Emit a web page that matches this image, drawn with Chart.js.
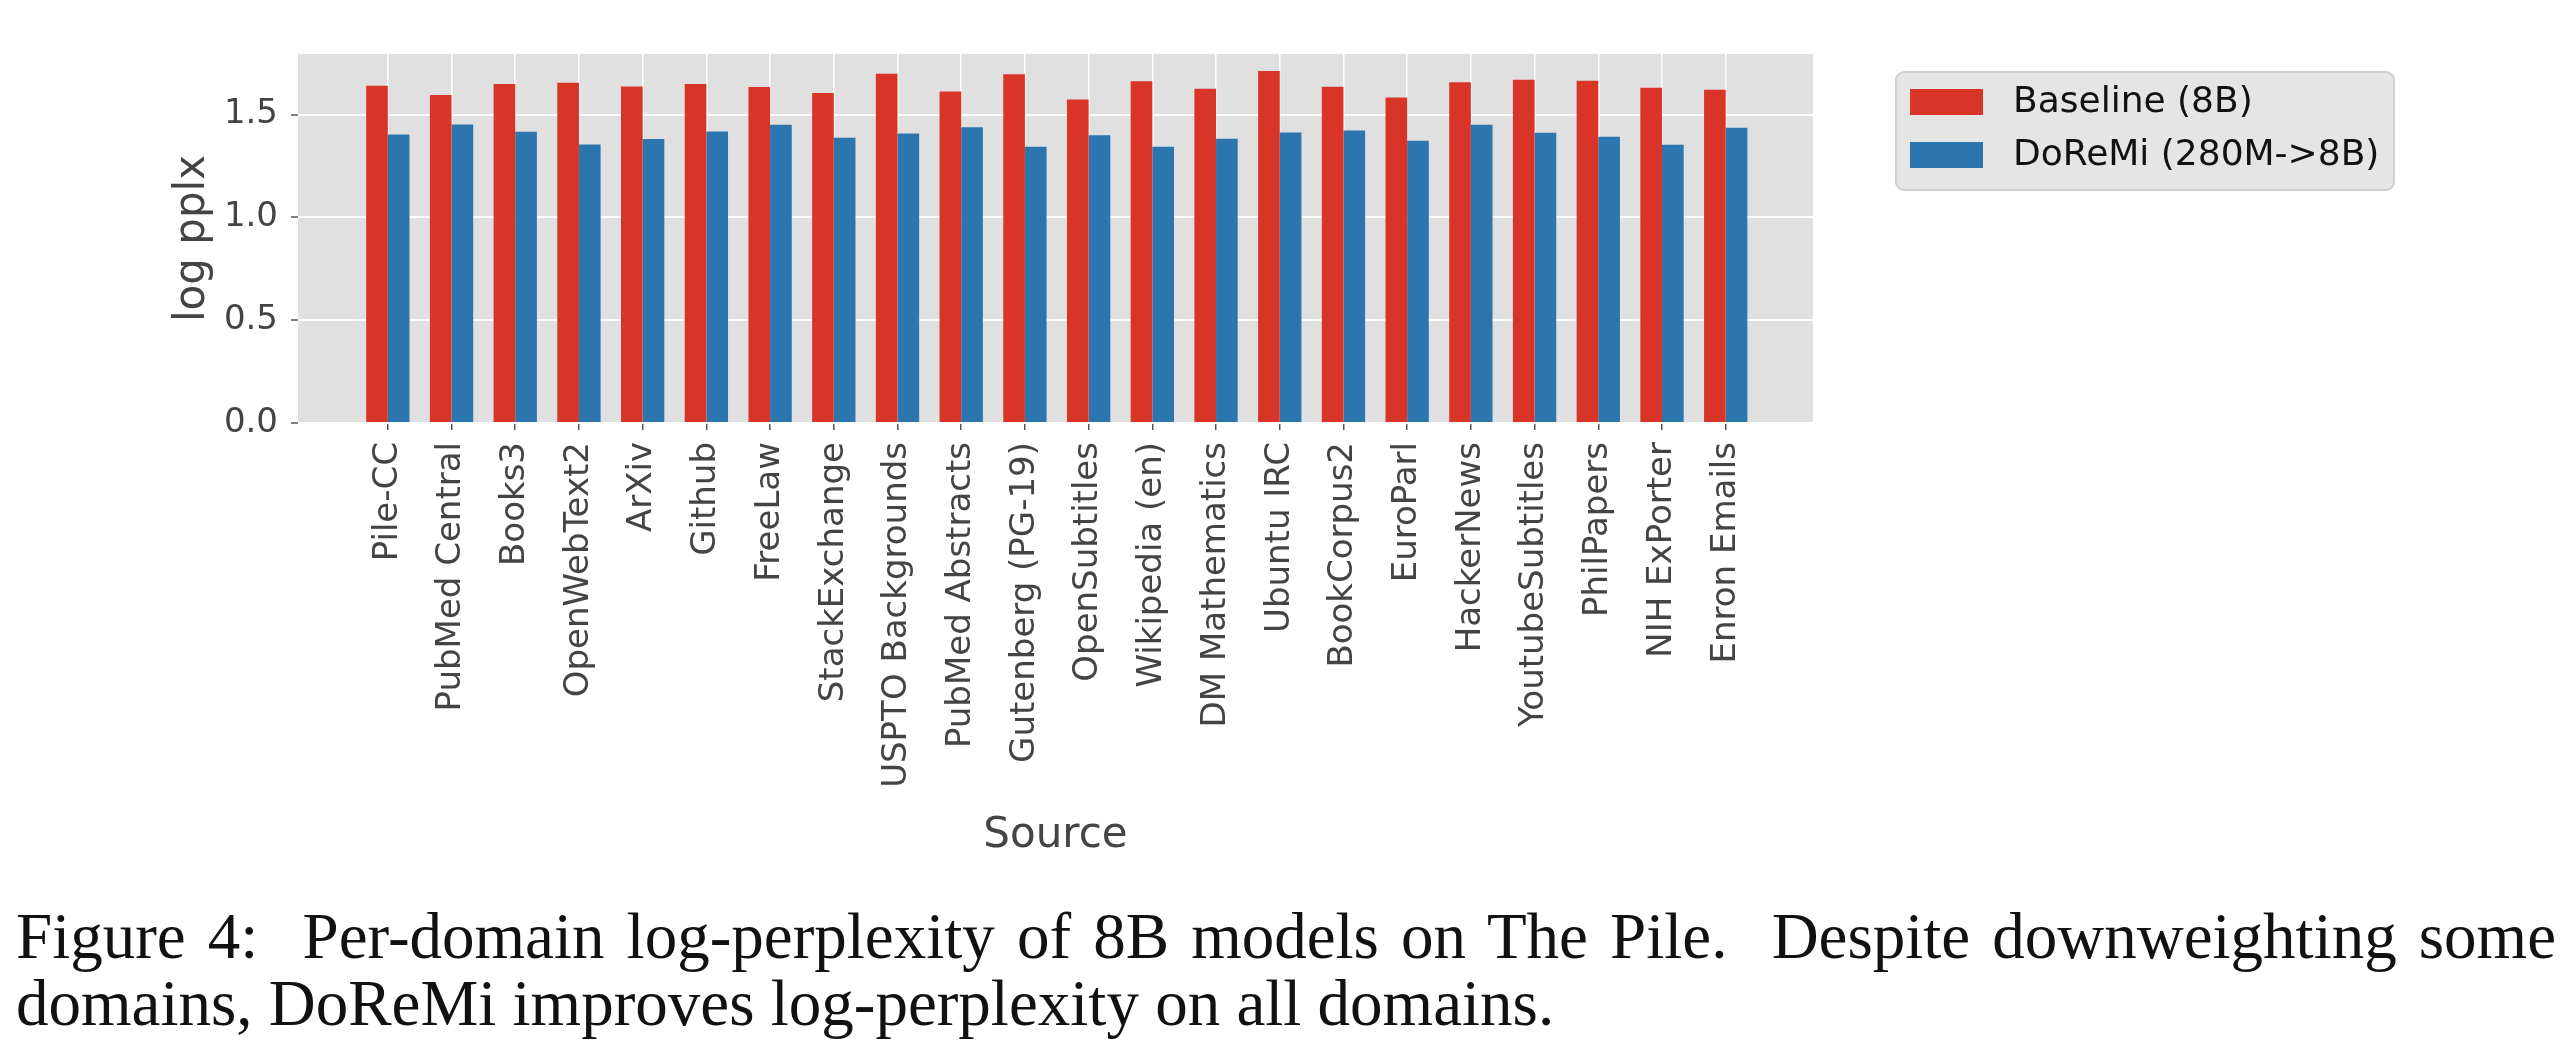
<!DOCTYPE html>
<html>
<head>
<meta charset="utf-8">
<script src="https://cdn.jsdelivr.net/npm/chart.js@4.4.1/dist/chart.umd.min.js"></script>
<style>
  html, body { margin: 0; padding: 0; background: #fff; overflow: hidden; }
  #wrap { position: absolute; left: 0; top: 0; width: 2566px; height: 880px; }
  #caption { position: absolute; left: 16px; top: 903px; width: 2540px;
             font-family: "Liberation Serif", serif; font-size: 65px; line-height: 67px; color: #111; }
  #caption .l1 { text-align: justify; text-align-last: justify; white-space: nowrap; }
</style>
</head>
<body>
<div id="wrap"><canvas id="chart"></canvas></div>
<div id="caption">
  <div class="l1">Figure 4:&nbsp; Per-domain log-perplexity of 8B models on The Pile.&nbsp; Despite downweighting some</div>
  <div class="l2">domains, DoReMi improves log-perplexity on all domains.</div>
</div>
<script>
// Pile domains, in the order they appear on the x axis
const sources = ['Pile-CC', 'PubMed Central', 'Books3', 'OpenWebText2', 'ArXiv', 'Github', 'FreeLaw',
    'StackExchange', 'USPTO Backgrounds', 'PubMed Abstracts', 'Gutenberg (PG-19)', 'OpenSubtitles',
    'Wikipedia (en)', 'DM Mathematics', 'Ubuntu IRC', 'BookCorpus2', 'EuroParl', 'HackerNews',
    'YoutubeSubtitles', 'PhilPapers', 'NIH ExPorter', 'Enron Emails'];

const baseline = [1.641, 1.595, 1.649, 1.655, 1.637, 1.649, 1.634, 1.605, 1.699, 1.613, 1.696,
    1.574, 1.662, 1.626, 1.712, 1.636, 1.584, 1.657, 1.670, 1.665, 1.631, 1.621];
const doremi = [1.404, 1.452, 1.417, 1.355, 1.381, 1.418, 1.451, 1.387, 1.408, 1.439, 1.344,
    1.400, 1.344, 1.383, 1.413, 1.423, 1.373, 1.451, 1.412, 1.392, 1.353, 1.436];

const yTicks = [0, 0.5, 1.0, 1.5];

const RED = '#d83428';
const BLUE = '#2c76af';
const TICK_FONT = { family: 'DejaVu Sans', size: 34 };
const TITLE_FONT = { family: 'DejaVu Sans', size: 42 };

// grey ggplot-like panel behind the bars
const panelBg = {
    id: 'panelBg',
    beforeDraw(chart) {
        const { ctx, chartArea: a } = chart;
        ctx.save();
        ctx.fillStyle = '#e0e0e0';
        ctx.fillRect(a.left, a.top, a.right - a.left, a.bottom - a.top);
        ctx.restore();
    }
};

// legend box to the right of the plot
const legendBox = {
    id: 'legendBox',
    afterDraw(chart) {
        const ctx = chart.ctx;
        ctx.save();
        ctx.beginPath();
        ctx.roundRect(1896, 72, 498, 118, 8);
        ctx.fillStyle = '#e5e5e5';
        ctx.fill();
        ctx.strokeStyle = '#cfcfcf';
        ctx.lineWidth = 2;
        ctx.stroke();
        ctx.font = '36px "DejaVu Sans"';
        ctx.textBaseline = 'middle';
        chart.data.datasets.forEach((ds, i) => {
            let y = 102 + i * 53;
            ctx.fillStyle = ds.backgroundColor;
            ctx.fillRect(1910, y - 13, 73, 26);
            ctx.fillStyle = '#111';
            ctx.fillText(ds.label, 2013, y + 1);
        });
        ctx.restore();
    }
};

new Chart(document.getElementById('chart'), {
    type: 'bar',
    data: {
        datasets: [
            {
                label: 'Baseline (8B)',
                data: baseline.map((v, i) => ({ x: i, y: v })),
                backgroundColor: RED
            },
            {
                label: 'DoReMi (280M->8B)',
                data: doremi.map((v, i) => ({ x: i, y: v })),
                backgroundColor: BLUE
            }
        ]
    },
    options: {
        responsive: true,
        maintainAspectRatio: false,
        animation: false,
        categoryPercentage: 0.68,
        barPercentage: 1.0,
        layout: { padding: { top: 54, right: 753, left: 0, bottom: 0 } },
        plugins: {
            legend: { display: false },
            tooltip: { enabled: false }
        },
        scales: {
            x: {
                type: 'linear',
                offset: false,
                min: -1.41,
                max: 22.37,
                afterFit: (scale) => { scale.height = 457; },
                afterBuildTicks: (scale) => { scale.ticks = sources.map((s, i) => ({ value: i })); },
                border: { display: false },
                grid: { offset: false, color: '#ffffff', lineWidth: 1.5, tickColor: '#555', tickLength: 7, tickWidth: 1.5 },
                ticks: {
                    autoSkip: false,
                    minRotation: 90,
                    maxRotation: 90,
                    padding: 12,
                    color: '#444',
                    font: TICK_FONT,
                    callback: (v) => sources[v]
                },
                title: {
                    display: true,
                    text: 'Source',
                    color: '#444',
                    font: TITLE_FONT,
                    padding: { top: 0, bottom: 19 }
                }
            },
            y: {
                min: 0,
                max: 1.795,
                afterFit: (scale) => { scale.width = 298; },
                afterBuildTicks: (scale) => { scale.ticks = yTicks.map(v => ({ value: v })); },
                border: { display: false },
                grid: { color: '#ffffff', lineWidth: 2, tickColor: '#555', tickLength: 7, tickWidth: 1.5 },
                ticks: {
                    padding: 13,
                    color: '#444',
                    font: TICK_FONT,
                    callback: (v) => v.toFixed(1)
                },
                title: {
                    display: true,
                    text: 'log pplx',
                    color: '#444',
                    font: TITLE_FONT,
                    padding: { top: 168, bottom: 0 }
                }
            }
        }
    },
    plugins: [panelBg, legendBox]
});
</script>
</body>
</html>
